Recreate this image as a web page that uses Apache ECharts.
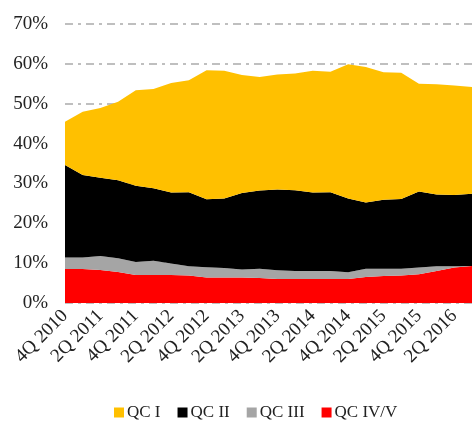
<!DOCTYPE html>
<html>
<head>
<meta charset="utf-8">
<script src="https://cdn.jsdelivr.net/npm/echarts@6/dist/echarts.min.js"></script>
<style>
  html, body { margin: 0; padding: 0; background: #fff; }
  #chart { width: 472px; height: 421px; }
</style>
</head>
<body>
<div id="chart"></div>
<script>
const quarters = [
  '4Q 2010', '1Q 2011', '2Q 2011', '3Q 2011', '4Q 2011', '1Q 2012', '2Q 2012', '3Q 2012',
  '4Q 2012', '1Q 2013', '2Q 2013', '3Q 2013', '4Q 2013', '1Q 2014', '2Q 2014', '3Q 2014',
  '4Q 2014', '1Q 2015', '2Q 2015', '3Q 2015', '4Q 2015', '1Q 2016', '2Q 2016', '3Q 2016',
];

// shares in percent, bottom layer first
const qcIV = [8.5, 8.5, 8.3, 7.8, 7.0, 7.0, 7.0, 6.9, 6.4, 6.4, 6.4, 6.3, 6.0, 6.0, 6.0, 6.0, 6.0, 6.5, 6.8, 6.9, 7.2, 8.0, 8.9, 9.3];
const qcIII = [2.9, 2.9, 3.5, 3.4, 3.3, 3.6, 2.9, 2.3, 2.6, 2.4, 2.0, 2.3, 2.2, 2.0, 2.0, 2.0, 1.7, 2.1, 1.8, 1.7, 1.7, 1.2, 0.3, 0.0];
const qcII = [23.2, 20.7, 19.6, 19.6, 19.1, 18.2, 17.8, 18.6, 17.0, 17.4, 19.2, 19.6, 20.3, 20.3, 19.7, 19.8, 18.5, 16.6, 17.3, 17.5, 19.1, 18.0, 17.9, 18.1];
const qcI = [10.9, 15.9, 17.5, 19.7, 24.0, 24.9, 27.5, 28.1, 32.4, 32.1, 29.6, 28.5, 28.8, 29.3, 30.6, 30.2, 33.7, 34.0, 32.0, 31.7, 27.0, 27.7, 27.5, 26.8];

const font = '"Liberation Serif", "DejaVu Serif", serif';

function areaSeries(name, data, color) {
  return {
    name,
    type: 'line',
    stack: 'qc',
    data,
    symbol: 'none',
    lineStyle: { width: 0 },
    areaStyle: { color, opacity: 1 },
    itemStyle: { color },
  };
}

const chart = echarts.init(document.getElementById('chart'));
chart.setOption({
  animation: false,
  textStyle: { fontFamily: font },
  grid: { left: 65, right: 0, top: 24, bottom: 118 },
  legend: {
    data: ['QC I', 'QC II', 'QC III', 'QC IV/V'],
    bottom: -5,
    left: 109,
    icon: 'rect',
    itemWidth: 10,
    itemHeight: 10,
    itemGap: 17,
    textStyle: { fontFamily: font, fontSize: 17, color: '#222', padding: [0, 0, 0, -2] },
  },
  xAxis: {
    type: 'category',
    data: quarters,
    boundaryGap: false,
    axisLine: { show: false },
    axisTick: { show: false },
    axisLabel: {
      interval: 1,
      rotate: 45,
      fontFamily: font,
      fontSize: 19,
      color: '#222',
      margin: 10,
    },
  },
  yAxis: {
    type: 'value',
    min: 0,
    max: 70,
    interval: 10,
    axisLine: { show: false },
    axisTick: { show: false },
    axisLabel: {
      formatter: '{value}%',
      fontFamily: font,
      fontSize: 19,
      color: '#222',
      margin: 17,
    },
    splitLine: {
      lineStyle: { color: '#bfbfbf', width: 2, type: [8, 5, 3, 5] },
    },
  },
  series: [
    areaSeries('QC IV/V', qcIV, '#ff0000'),
    areaSeries('QC III', qcIII, '#a5a5a5'),
    areaSeries('QC II', qcII, '#000000'),
    areaSeries('QC I', qcI, '#ffc000'),
  ],
});
</script>
</body>
</html>
